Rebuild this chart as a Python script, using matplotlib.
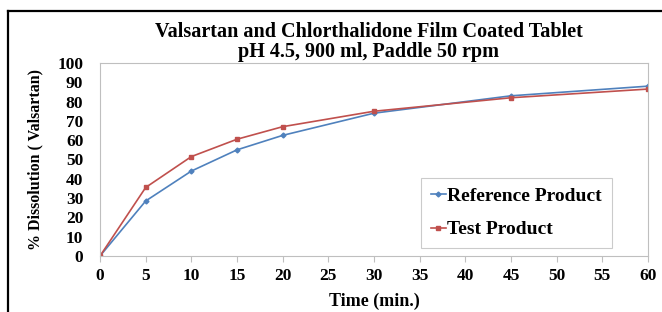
import matplotlib
matplotlib.use("Agg")
import matplotlib.pyplot as plt
from matplotlib.lines import Line2D

plt.rcParams.update({
    "font.family": "Liberation Serif",
    "font.weight": "bold",
})

time_min = [0, 5, 10, 15, 20, 30, 45, 60]
reference = [0, 28.5, 44.0, 55.0, 62.5, 74.0, 83.0, 88.0]
test = [0, 35.5, 51.5, 60.5, 67.0, 75.0, 82.0, 86.5]

COL_REF = "#4F81BD"
COL_TEST = "#C0504D"

fig = plt.figure(figsize=(6.62, 3.12), dpi=100)
ax = fig.add_axes([100 / 662, 1 - 256 / 312, 548 / 662, 193 / 312])

ax.plot(time_min, reference, color=COL_REF, lw=1.2, marker="D", ms=2.5,
        label="Reference Product")
ax.plot(time_min, test, color=COL_TEST, lw=1.2, marker="s", ms=3,
        label="Test Product")

ax.set_xlim(0, 60)
ax.set_ylim(0, 100)
ax.set_xticks(range(0, 61, 5))
ax.set_yticks(range(0, 101, 10))
for s in ax.spines.values():
    s.set_color("#BFBFBF")
    s.set_linewidth(0.8)
ax.tick_params(axis="x", direction="out", length=4, color="#BFBFBF",
               labelsize=12.5, pad=5)
ax.tick_params(axis="y", length=0, labelsize=12.5, pad=12)
for lab in ax.get_xticklabels() + ax.get_yticklabels():
    lab.set_fontweight("bold")

ax.set_xlabel("Time (min.)", fontsize=13, fontweight="bold", labelpad=6)
ax.set_ylabel("% Dissolution ( Valsartan)", fontsize=11.5, fontweight="bold",
              labelpad=10)

fig.text(0.557, 1 - 32 / 312, "Valsartan and Chlorthalidone Film Coated Tablet",
         ha="center", va="center", fontsize=14.5, fontweight="bold")
fig.text(0.557, 1 - 52 / 312, "pH 4.5, 900 ml, Paddle 50 rpm",
         ha="center", va="center", fontsize=14.5, fontweight="bold")

leg = ax.legend(loc="lower right", bbox_to_anchor=(0.934, 0.041),
                borderaxespad=0, fontsize=14, handlelength=0.75,
                handletextpad=0.1, labelspacing=0.8, borderpad=0.5,
                frameon=True, fancybox=False)
leg.get_frame().set_edgecolor("#BFBFBF")
leg.get_frame().set_linewidth(0.8)
for t in leg.get_texts():
    t.set_fontweight("bold")

# outer frame
fig.add_artist(Line2D([8 / 662, 8 / 662], [0, 1 - 10.5 / 312],
                      transform=fig.transFigure, color="black", lw=1.6))
fig.add_artist(Line2D([8 / 662, 1], [1 - 10.5 / 312, 1 - 10.5 / 312],
                      transform=fig.transFigure, color="black", lw=1.6))

fig.savefig("out.png", dpi=100)
